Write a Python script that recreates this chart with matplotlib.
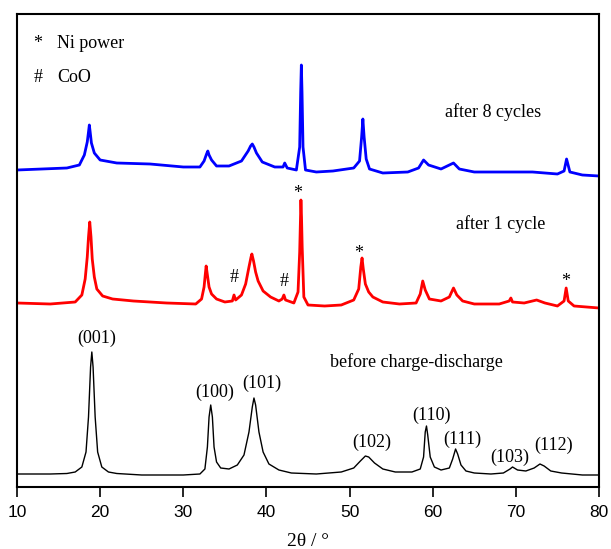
import matplotlib
matplotlib.use('Agg')
import matplotlib.pyplot as plt

SERIF = ['Liberation Serif', 'DejaVu Serif']
SANS = ['Liberation Sans', 'DejaVu Sans']

# 2theta (deg) and stacked intensity (a.u.) for the three patterns
two_theta_before = [10, 14, 16, 17, 17.8, 18.3, 18.6, 18.85, 19.0, 19.15, 19.4, 19.7, 20.2, 21, 22,
                    25, 30, 32, 32.6, 32.9, 33.1, 33.3, 33.5, 33.7, 34.0, 34.5, 35.5, 36.5, 37.3,
                    37.9, 38.3, 38.5, 38.7, 39.1, 39.6, 40.3, 41.5, 43, 46, 49, 50.5, 51.3, 51.9,
                    52.3, 53, 54, 55.5, 57.5, 58.5, 58.9, 59.1, 59.25, 59.4, 59.7, 60.2, 61, 62,
                    62.4, 62.75, 63.0, 63.4, 64, 65, 67, 68.5, 69.3, 69.6, 70.2, 71.2, 72.2, 72.9,
                    73.4, 74.2, 75.5, 78, 80]
intensity_before = [13, 13, 13.5, 15, 20, 35, 70, 120, 135, 120, 70, 35, 20, 15, 13.5,
                    12, 12, 13, 18, 40, 70, 82, 70, 40, 25, 19, 18, 22, 32,
                    55, 80, 89, 82, 55, 35, 23, 17, 14, 13, 15, 19, 26, 31,
                    30, 24, 18, 15, 15, 18, 30, 55, 61, 52, 30, 20, 17, 19,
                    28, 38, 33, 22, 16, 14, 13, 14, 18, 20, 17, 16, 19, 23,
                    21, 16, 14, 12, 12]

two_theta_1cycle = [10, 14, 17, 17.8, 18.2, 18.45, 18.6, 18.75, 18.9, 19.05, 19.3, 19.6, 20.3, 21.5,
                    24, 28, 31.5, 32.2, 32.5, 32.65, 32.75, 32.9, 33.1, 33.4, 34, 35, 35.9, 36.1,
                    36.3, 37, 37.5, 37.9, 38.15, 38.25, 38.45, 38.7, 39, 39.6, 40.5, 41.5, 41.9,
                    42.1, 42.3, 43.3, 43.8, 44.0, 44.1, 44.15, 44.22, 44.3, 44.5, 45, 47, 49, 50.5,
                    51.1, 51.35, 51.5, 51.65, 51.9, 52.3, 52.8, 54, 56, 58, 58.5, 58.8, 59.1, 59.6,
                    61, 62, 62.5, 62.9, 63.6, 65, 68, 69.2, 69.4, 69.6, 71, 72.5, 73.5, 75, 75.8,
                    76.05, 76.3, 77, 80]
intensity_1cycle = [184, 183, 185, 192, 208, 230, 250, 265, 250, 228, 210, 198, 191, 188,
                    186, 184, 183, 188, 200, 213, 221, 212, 200, 193, 188, 185, 186, 192,
                    187, 192, 203, 220, 230, 233, 226, 215, 206, 196, 190, 186, 188,
                    192, 187, 184, 195, 235, 270, 287, 270, 240, 190, 182, 181, 182, 187,
                    198, 220, 229, 218, 203, 195, 190, 185, 183, 184, 193, 206, 197, 188,
                    186, 190, 199, 192, 186, 183, 183, 186, 189, 185, 184, 187, 184, 181, 186,
                    199, 186, 181, 179]

two_theta_8cycles = [10, 13, 16, 17.5, 18.1, 18.45, 18.6, 18.7, 18.8, 18.95, 19.3, 20, 22, 26, 30,
                     32, 32.5, 32.8, 32.95, 33.1, 33.4, 34, 35.5, 37, 37.8, 38.1, 38.3, 38.5, 38.8,
                     39.5, 41, 42, 42.2, 42.5, 43.6, 44.0, 44.12, 44.2, 44.28, 44.4, 44.7, 46, 48,
                     50.5, 51.2, 51.45, 51.6, 51.75, 52.0, 52.4, 54, 57, 58.3, 58.9, 59.5, 61,
                     62.5, 63.2, 65, 69, 72, 75, 75.8, 76.1, 76.5, 78, 80]
intensity_8cycles = [317, 318, 319, 322, 332, 345, 355, 362, 355, 344, 334, 327, 324, 323, 320,
                     320, 326, 333, 336, 332, 327, 321, 321, 326, 336, 341, 343, 340, 334,
                     325, 320, 320, 324, 319, 317, 340, 395, 422, 395, 340, 317, 315, 316,
                     319, 326, 350, 368, 350, 328, 318, 314, 315, 319, 327, 322, 318,
                     324, 318, 315, 315, 315, 313, 316, 328, 315, 312, 311]

# Miller indices of the pristine material and where they are written
hkl_labels = ['(001)', '(100)', '(101)', '(102)', '(110)', '(111)', '(103)', '(112)']
hkl_x = [19.6, 33.8, 39.5, 52.7, 59.9, 63.5, 69.3, 74.5]
hkl_y = [149, 95, 104, 45, 72, 48, 30, 42]

# phase markers on the cycled pattern
marker_text = ['#', '#', '*', '*', '*']
marker_x = [36.1, 42.1, 43.7, 51.1, 76.0]
marker_y = [210, 205, 294, 234, 205]

fig = plt.figure(figsize=(6.11, 5.49), dpi=100)
ax = fig.add_axes([17 / 611, 62 / 549, 582 / 611, 473 / 549])

ax.plot(two_theta_before, intensity_before, color='black', lw=1.0)
ax.plot(two_theta_1cycle, intensity_1cycle, color='#FF0000', lw=2.0, solid_joinstyle='round')
ax.plot(two_theta_8cycles, intensity_8cycles, color='#0000FF', lw=2.0, solid_joinstyle='round')

ax.set_xlim(10, 80)
ax.set_ylim(0, 473)
ax.set_yticks([])
ax.set_xticks(range(10, 81, 10))
ax.tick_params(axis='x', direction='out', length=7, width=1.2, labelsize=12.5, pad=6)
for lab in ax.get_xticklabels():
    lab.set_family(SANS)
for sp in ax.spines.values():
    sp.set_linewidth(1.5)

ax.set_xlabel('2\u03b8 / \u00b0', fontsize=14, family=SERIF, labelpad=9)

fs = 13
for t, x, y in zip(hkl_labels, hkl_x, hkl_y):
    ax.text(x, y, t, ha='center', va='center', fontsize=fs, family=SERIF)
for t, x, y in zip(marker_text, marker_x, marker_y):
    ax.text(x, y, t, ha='center', va='center', fontsize=fs, family=SERIF)

ax.text(58.0, 125, 'before charge-discharge', ha='center', va='center', fontsize=fs, family=SERIF)
ax.text(68.2, 263, 'after 1 cycle', ha='center', va='center', fontsize=fs, family=SERIF)
ax.text(67.2, 375, 'after 8 cycles', ha='center', va='center', fontsize=fs, family=SERIF)

# key for the phase markers
ax.text(12.5, 444, '*', ha='center', va='center', fontsize=fs, family=SERIF)
ax.text(14.8, 444, 'Ni power', ha='left', va='center', fontsize=fs, family=SERIF)
ax.text(12.5, 410, '#', ha='center', va='center', fontsize=fs, family=SERIF)
ax.text(14.8, 410, 'CoO', ha='left', va='center', fontsize=fs, family=SERIF)

fig.savefig('out.png', dpi=100)
